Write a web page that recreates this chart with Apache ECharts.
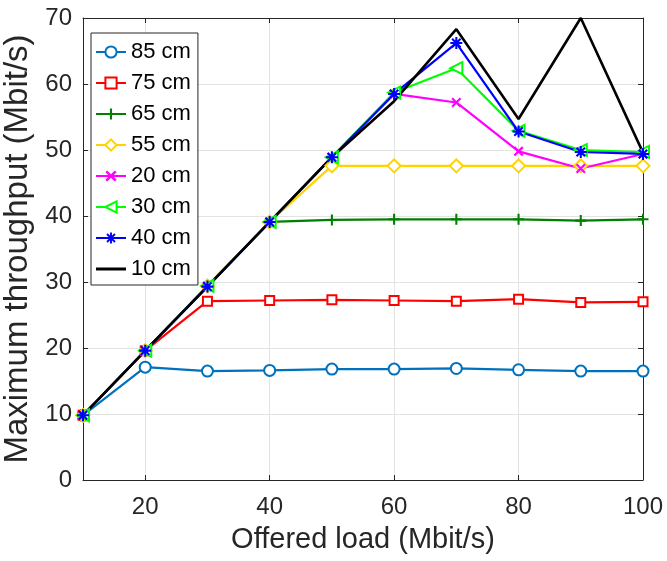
<!DOCTYPE html>
<html>
<head>
<meta charset="utf-8">
<script src="https://cdn.jsdelivr.net/npm/echarts@6/dist/echarts.min.js"></script>
<style>
  html, body { margin: 0; padding: 0; background: #fff; }
  #chart { width: 667px; height: 561px; }
</style>
</head>
<body>
<div id="chart"></div>
<script>
// Offered load (Mbit/s) on the x axis
const loads = [10, 20, 30, 40, 50, 60, 70, 80, 90, 100];

// Maximum throughput (Mbit/s) measured at each distance
const thr85 = [9.8, 17.1, 16.5, 16.6, 16.8, 16.8, 16.9, 16.7, 16.5, 16.5];
const thr75 = [9.8, 19.6, 27.1, 27.2, 27.3, 27.2, 27.1, 27.4, 26.9, 27.0];
const thr65 = [9.8, 19.6, 29.4, 39.1, 39.4, 39.5, 39.5, 39.5, 39.3, 39.5];
const thr55 = [9.8, 19.6, 29.4, 39.1, 47.6, 47.6, 47.6, 47.6, 47.6, 47.6];
const thr20 = [9.8, 19.6, 29.4, 39.1, 48.9, 58.5, 57.2, 49.8, 47.2, 49.4];
const thr30 = [9.8, 19.6, 29.4, 39.1, 48.9, 58.7, 62.4, 52.9, 50.0, 49.7];
const thr40 = [9.8, 19.6, 29.3, 39.1, 48.9, 58.5, 66.2, 52.8, 49.7, 49.4];
const thr10 = [9.8, 19.6, 29.3, 39.1, 48.9, 57.4, 68.3, 54.7, 70.0, 49.6];

const seriesNames = ['85 cm', '75 cm', '65 cm', '55 cm', '20 cm', '30 cm', '40 cm', '10 cm'];

// Marker shapes built from rotated bars (nonzero fill gives their union)
function barsPath(angles, len, hw) {
  let d = '';
  angles.forEach(a => {
    const r = a * Math.PI / 180;
    const dx = Math.cos(r), dy = Math.sin(r);
    const nx = -dy, ny = dx;
    const pts = [
      [len * dx + hw * nx, len * dy + hw * ny],
      [len * dx - hw * nx, len * dy - hw * ny],
      [-len * dx - hw * nx, -len * dy - hw * ny],
      [-len * dx + hw * nx, -len * dy + hw * ny]
    ].map(p => [(p[0] + 10).toFixed(3), (p[1] + 10).toFixed(3)]);
    d += 'M' + pts[0].join(',') + 'L' + pts[1].join(',') + 'L' + pts[2].join(',') + 'L' + pts[3].join(',') + 'Z';
  });
  return 'path://' + d;
}
const plusSym = barsPath([0, 90], 10, 1.9);
const xSym = barsPath([45, 135], 10, 1.9);
const starSym = barsPath([0, 45, 90, 135], 10, 1.7);
// Plain line swatch for the marker-less series (empty sub-paths pin the icon box)
const lineOnlyIcon = 'path://M0,0L0.01,0Z M0,5.6L30,5.6L30,8.4L0,8.4Z M0,14L0.01,14Z';

const FONT = '"Liberation Sans", Arial, Helvetica, sans-serif';
const AXIS = '#262626';

function lineSeries(name, data, color, symbol, size, hollow, extra) {
  const pts = loads.map((x, i) => [x, data[i]]);
  return Object.assign({
    name: name,
    type: 'line',
    data: pts,
    symbol: symbol,
    symbolSize: size,
    showAllSymbol: true,
    color: color,
    lineStyle: { color: color, width: 2.2 },
    itemStyle: hollow
      ? { color: color, borderColor: color, borderWidth: 2 }
      : { color: color, borderWidth: 0 },
    emphasis: { disabled: true },
    animation: false
  }, extra || {});
}

const series = [
  lineSeries(seriesNames[0], thr85, '#0072BD', 'emptyCircle', 11, true),
  lineSeries(seriesNames[1], thr75, '#FF0000', 'emptyRect', 9, true),
  lineSeries(seriesNames[2], thr65, '#008000', plusSym, 11, false),
  lineSeries(seriesNames[3], thr55, '#FFD200', 'emptyDiamond', 13, true),
  lineSeries(seriesNames[4], thr20, '#FF00FF', xSym, 10, false),
  lineSeries(seriesNames[5], thr30, '#00FF00', 'emptyTriangle', 12, true, { symbolRotate: 90 }),
  lineSeries(seriesNames[6], thr40, '#0000FF', starSym, 12, false),
  lineSeries(seriesNames[7], thr10, '#000000', 'none', 0, false, { lineStyle: { color: '#000000', width: 2.6 } })
];

const legendData = seriesNames.map(n => n === '10 cm' ? { name: n, icon: lineOnlyIcon } : { name: n });

const chart = echarts.init(document.getElementById('chart'), null, { renderer: 'canvas' });

const tickStyle = { show: true, inside: true, length: 5, lineStyle: { color: AXIS, width: 1 } };

chart.setOption({
  backgroundColor: '#ffffff',
  animation: false,
  textStyle: { fontFamily: FONT },
  grid: { left: 83, right: 24, top: 18, bottom: 81, containLabel: false, outerBoundsMode: 'none' },
  legend: {
    data: legendData,
    orient: 'vertical',
    left: 91,
    top: 33,
    itemWidth: 30,
    itemHeight: 14,
    itemGap: 9,
    padding: [8, 7, 5, 4],
    backgroundColor: '#ffffff',
    borderColor: AXIS,
    borderWidth: 1,
    textStyle: { fontFamily: FONT, fontSize: 22, color: '#000', lineHeight: 22 },
    selectedMode: false
  },
  xAxis: [
    {
      type: 'value',
      min: 10,
      max: 100,
      position: 'bottom',
      name: 'Offered load (Mbit/s)',
      nameLocation: 'middle',
      nameGap: 45,
      nameTextStyle: { fontFamily: FONT, fontSize: 29, color: '#262626' },
      axisLine: { show: true, onZero: false, lineStyle: { color: AXIS, width: 1 } },
      axisTick: tickStyle,
      axisLabel: { showMinLabel: false, margin: 15, fontFamily: FONT, fontSize: 24, color: '#262626' },
      splitLine: { show: true, lineStyle: { color: '#e3e3e3', width: 1 } }
    },
    {
      type: 'value',
      min: 10,
      max: 100,
      position: 'top',
      axisLine: { show: true, onZero: false, lineStyle: { color: AXIS, width: 1 } },
      axisTick: tickStyle,
      axisLabel: { show: false },
      splitLine: { show: false }
    }
  ],
  yAxis: [
    {
      type: 'value',
      min: 0,
      max: 70,
      interval: 10,
      position: 'left',
      name: 'Maximum throughput (Mbit/s)',
      nameLocation: 'middle',
      nameGap: 43,
      nameTextStyle: { fontFamily: FONT, fontSize: 33, color: '#262626' },
      axisLine: { show: true, onZero: false, lineStyle: { color: AXIS, width: 1 } },
      axisTick: tickStyle,
      axisLabel: { margin: 11, fontFamily: FONT, fontSize: 24, color: '#262626' },
      splitLine: { show: true, lineStyle: { color: '#e3e3e3', width: 1 } }
    },
    {
      type: 'value',
      min: 0,
      max: 70,
      interval: 10,
      position: 'right',
      axisLine: { show: true, onZero: false, lineStyle: { color: AXIS, width: 1 } },
      axisTick: tickStyle,
      axisLabel: { show: false },
      splitLine: { show: false }
    }
  ],
  series: series
});
</script>
</body>
</html>
